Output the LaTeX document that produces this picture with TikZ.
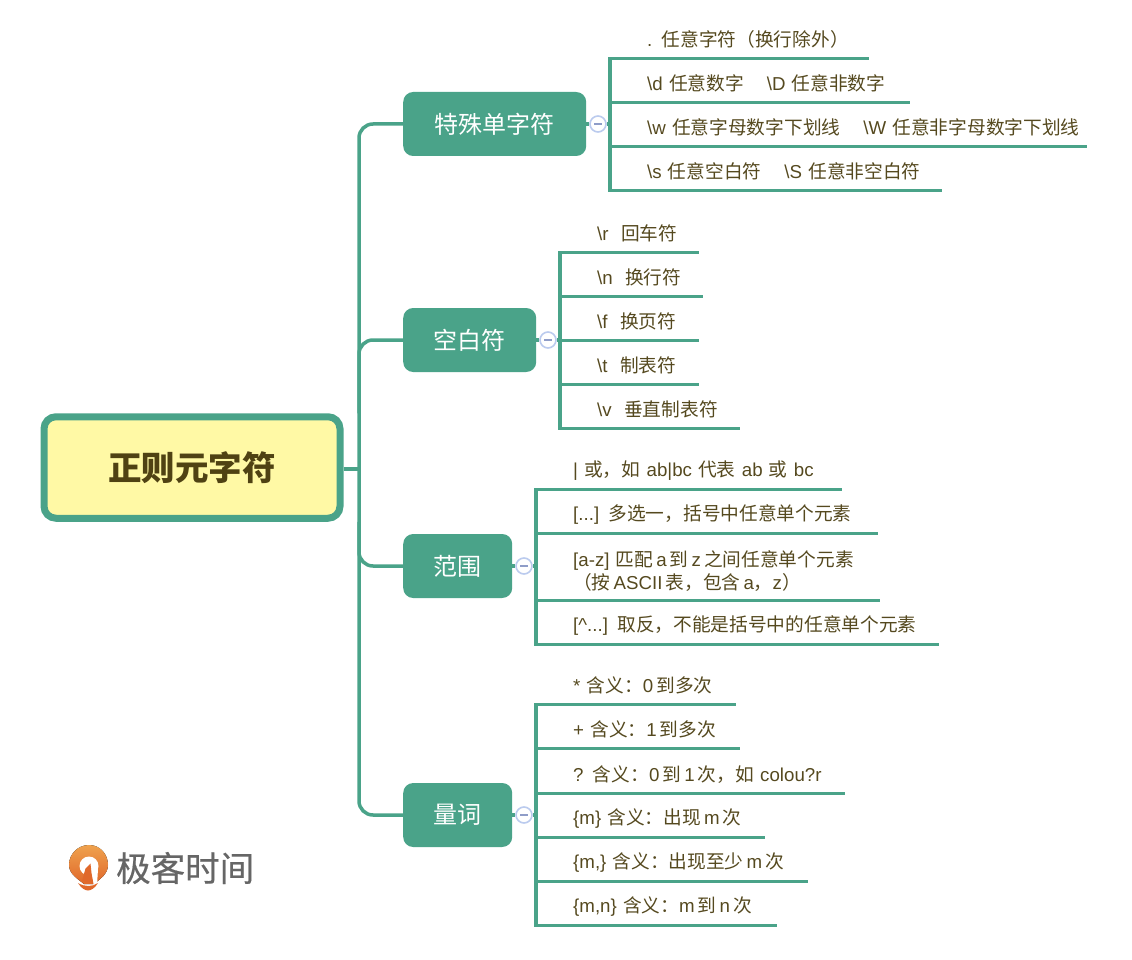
\documentclass[tikz,border=0pt]{standalone}
\usepackage{fontspec}
\setmainfont{Liberation Sans}
\newfontfamily\cjkfont{Noto Sans CJK SC}
\newfontfamily\brandfont[FakeBold=0.5]{Noto Sans CJK SC}
\usetikzlibrary{positioning}
\definecolor{mapgreen}{HTML}{4AA389}
\definecolor{rootfill}{HTML}{FFF9A5}
\definecolor{rootink}{HTML}{4F4213}
\definecolor{leafink}{HTML}{55491F}
\definecolor{knobline}{HTML}{BBCBEE}
\definecolor{knobdash}{HTML}{8F9DC8}
\definecolor{logoink}{HTML}{666666}
\definecolor{logotop}{HTML}{EFA24E}
\definecolor{logobottom}{HTML}{E0682B}

% Chinese characters take the CJK family, everything else stays in the main font
\XeTeXinterchartokenstate=1
\newXeTeXintercharclass\cjkclass
\newcount\cjkchar
\newcommand{\markcjk}[2]{\cjkchar=#1
  \loop\XeTeXcharclass\cjkchar=\cjkclass
  \ifnum\cjkchar<#2 \advance\cjkchar by 1 \repeat}
\markcjk{"3000}{"303F}
\markcjk{"4E00}{"9FFF}
\markcjk{"FF00}{"FFEF}
\XeTeXinterchartoks 0 \cjkclass={\cjkfont}
\XeTeXinterchartoks 4095 \cjkclass={\cjkfont}
\XeTeXinterchartoks \cjkclass 0={\rmfamily}
\XeTeXinterchartoks \cjkclass 4095={\rmfamily}

\begin{document}
\begin{tikzpicture}[
  x=1pt,y=-1pt,
  root/.style={draw=mapgreen,line width=7pt,fill=rootfill,rounded corners=12pt,
               text=rootink,font=\fontsize{33.5}{38}\selectfont\bfseries,
               minimum width=296pt,minimum height=101.5pt,inner sep=0pt},
  topic/.style={fill=mapgreen,rounded corners=10pt,text=white,anchor=west,
                font=\fontsize{24}{28}\selectfont,minimum height=64pt,inner sep=0pt},
  leaf/.style={anchor=south west,align=left,text=leafink,inner sep=0pt,
               font=\fontsize{18.7}{23}\selectfont,minimum height=38pt},
  knob/.style={circle,draw=knobline,line width=1.6pt,fill=white,minimum size=16pt,
               inner sep=0pt},
  branch/.style={draw=mapgreen,line width=3.5pt},
  twig/.style={draw=mapgreen,line width=3pt},
  post/.style={draw=mapgreen,line width=3.2pt,line cap=rect},
]
\useasboundingbox (0,0) rectangle (1132,960);

% Root
\node[root] (regex) at (192,467.5) {正则元字符};

% Topics
\node[topic,minimum width=183pt] (single) at (403,124) {特殊单字符};
\node[topic,minimum width=133pt] (blank) at (403,340) {空白符};
\node[topic,minimum width=109pt] (range) at (403,566) {范围};
\node[topic,minimum width=109pt] (quant) at (403,815) {量词};

% Spine from root to topics
\coordinate (spine) at (359,469);
\draw[branch] (spine -| regex.east) -- (spine);
\draw[branch,rounded corners=14pt] (single.west) -| (spine |- quant.west) -- (quant.west);
\draw[branch,rounded corners=14pt] (blank.west) -| (spine |- regex.north);
\draw[branch,rounded corners=14pt] (spine |- regex.south) |- (range.west);

% Collapse knobs
\node[knob] (singleknob) at (598,124) {};
\node[knob] (blankknob) at (548,340) {};
\node[knob] (rangeknob) at (524,566) {};
\node[knob] (quantknob) at (524,815) {};
\draw[knobdash,line width=1.5pt] (594,124) -- (602,124);
\draw[knobdash,line width=1.5pt] (544,340) -- (552,340);
\draw[knobdash,line width=1.5pt] (520,566) -- (528,566);
\draw[knobdash,line width=1.5pt] (520,815) -- (528,815);

% Special single characters
\node[leaf,text width=222pt] (dot) at (647,58.5) {. 任意字符（换行除外）};
\node[leaf,text width=263pt] (digit) at (647,102.5) {\textbackslash d 任意数字\hspace{23pt}\textbackslash D 任意非数字};
\node[leaf,text width=440pt] (word) at (647,146.5) {\textbackslash w 任意字母数字下划线\hspace{23pt}\textbackslash W 任意非字母数字下划线};
\node[leaf,text width=295pt] (space) at (647,190.5) {\textbackslash s 任意空白符\hspace{23pt}\textbackslash S 任意非空白符};
\coordinate (singlebar) at (610,124);
\draw[branch] (single.east) -- (singleknob);
\draw[branch] (singleknob) -- (singlebar);
\draw[twig] (singlebar |- dot.south) -- (dot.south east);
\draw[twig] (singlebar |- digit.south) -- (digit.south east);
\draw[twig] (singlebar |- word.south) -- (word.south east);
\draw[twig] (singlebar |- space.south) -- (space.south east);
\draw[post] (singlebar |- dot.south) -- (singlebar |- space.south);

% Blank characters
\node[leaf,text width=102pt] (cr) at (597,252.5) {\textbackslash r\ \ 回车符};
\node[leaf,text width=106pt] (lf) at (597,296.5) {\textbackslash n\ \ 换行符};
\node[leaf,text width=102pt] (ff) at (597,340.5) {\textbackslash f\ \ 换页符};
\node[leaf,text width=102pt] (tab) at (597,384.5) {\textbackslash t\ \ 制表符};
\node[leaf,text width=143pt] (vtab) at (597,428.5) {\textbackslash v\ \ 垂直制表符};
\coordinate (blankbar) at (560,340);
\draw[branch] (blank.east) -- (blankknob);
\draw[branch] (blankknob) -- (blankbar);
\draw[twig] (blankbar |- cr.south) -- (cr.south east);
\draw[twig] (blankbar |- lf.south) -- (lf.south east);
\draw[twig] (blankbar |- ff.south) -- (ff.south east);
\draw[twig] (blankbar |- tab.south) -- (tab.south east);
\draw[twig] (blankbar |- vtab.south) -- (vtab.south east);
\draw[post] (blankbar |- cr.south) -- (blankbar |- vtab.south);

% Ranges
\node[leaf,text width=269pt] (alt) at (573,489.5) {| 或，如 ab|bc 代表 ab 或 bc};
\node[leaf,text width=305pt] (pick) at (573,533.5) {[...] 多选一，括号中任意单个元素};
\node[leaf,text width=307pt,minimum height=58pt] (span) at (573,600.5) {[a-z] 匹配\,a\,到\,z\,之间任意单个元素\\（按\,ASCII\,表，包含\,a，z）};
\node[leaf,text width=366pt] (neg) at (573,644.5) {[\textasciicircum...] 取反，不能是括号中的任意单个元素};
\coordinate (rangebar) at (536,566);
\draw[branch] (range.east) -- (rangeknob);
\draw[branch] (rangeknob) -- (rangebar);
\draw[twig] (rangebar |- alt.south) -- (alt.south east);
\draw[twig] (rangebar |- pick.south) -- (pick.south east);
\draw[twig] (rangebar |- span.south) -- (span.south east);
\draw[twig] (rangebar |- neg.south) -- (neg.south east);
\draw[post] (rangebar |- alt.south) -- (rangebar |- neg.south);

% Quantifiers
\node[leaf,text width=163pt] (star) at (573,704.5) {* 含义：0\,到多次};
\node[leaf,text width=167pt] (plus) at (573,748.5) {+ 含义：1\,到多次};
\node[leaf,text width=272pt] (opt) at (573,793.5) {? 含义：0\,到\,1\,次，如 colou?r};
\node[leaf,text width=192pt] (exact) at (573,837.5) {\{m\} 含义：出现\,m\,次};
\node[leaf,text width=235pt] (least) at (573,881.5) {\{m,\} 含义：出现至少\,m\,次};
\node[leaf,text width=204pt] (between) at (573,925.5) {\{m,n\} 含义：m\,到\,n\,次};
\coordinate (quantbar) at (536,815);
\draw[branch] (quant.east) -- (quantknob);
\draw[branch] (quantknob) -- (quantbar);
\draw[twig] (quantbar |- star.south) -- (star.south east);
\draw[twig] (quantbar |- plus.south) -- (plus.south east);
\draw[twig] (quantbar |- opt.south) -- (opt.south east);
\draw[twig] (quantbar |- exact.south) -- (exact.south east);
\draw[twig] (quantbar |- least.south) -- (least.south east);
\draw[twig] (quantbar |- between.south) -- (between.south east);
\draw[post] (quantbar |- star.south) -- (quantbar |- between.south);

% Logo
\fill[top color=logotop,bottom color=logobottom] (89,845)
  .. controls (78,845) and (69,854) .. (69,865)
  .. controls (69,874) and (78,879) .. (84,884) -- (94,884)
  .. controls (100,879) and (108,874) .. (108,865)
  .. controls (108,854) and (100,845) .. (89,845) -- cycle;
\fill[white] (89,866) circle (9.5);
\fill[white] (91,872) -- (93.5,885) -- (97,885) -- (98,869) -- cycle;
\fill[logobottom] (82,881) -- (85.5,868.5) -- (90.5,863.5) -- (91.5,873) -- (93.5,884) -- cycle;
\fill[logobottom] (78,883) .. controls (85,887) and (92,887) .. (98,883)
  .. controls (95,888) and (91,890.5) .. (88,890.5) .. controls (85,890.5) and (81,888) .. (78,883) -- cycle;
\node[text=logoink,font=\fontsize{34.5}{38}\selectfont,inner sep=0pt,anchor=west] (brand) at (116,868) {\XeTeXinterchartokenstate=0\brandfont 极客时间};

\end{tikzpicture}
\end{document}
